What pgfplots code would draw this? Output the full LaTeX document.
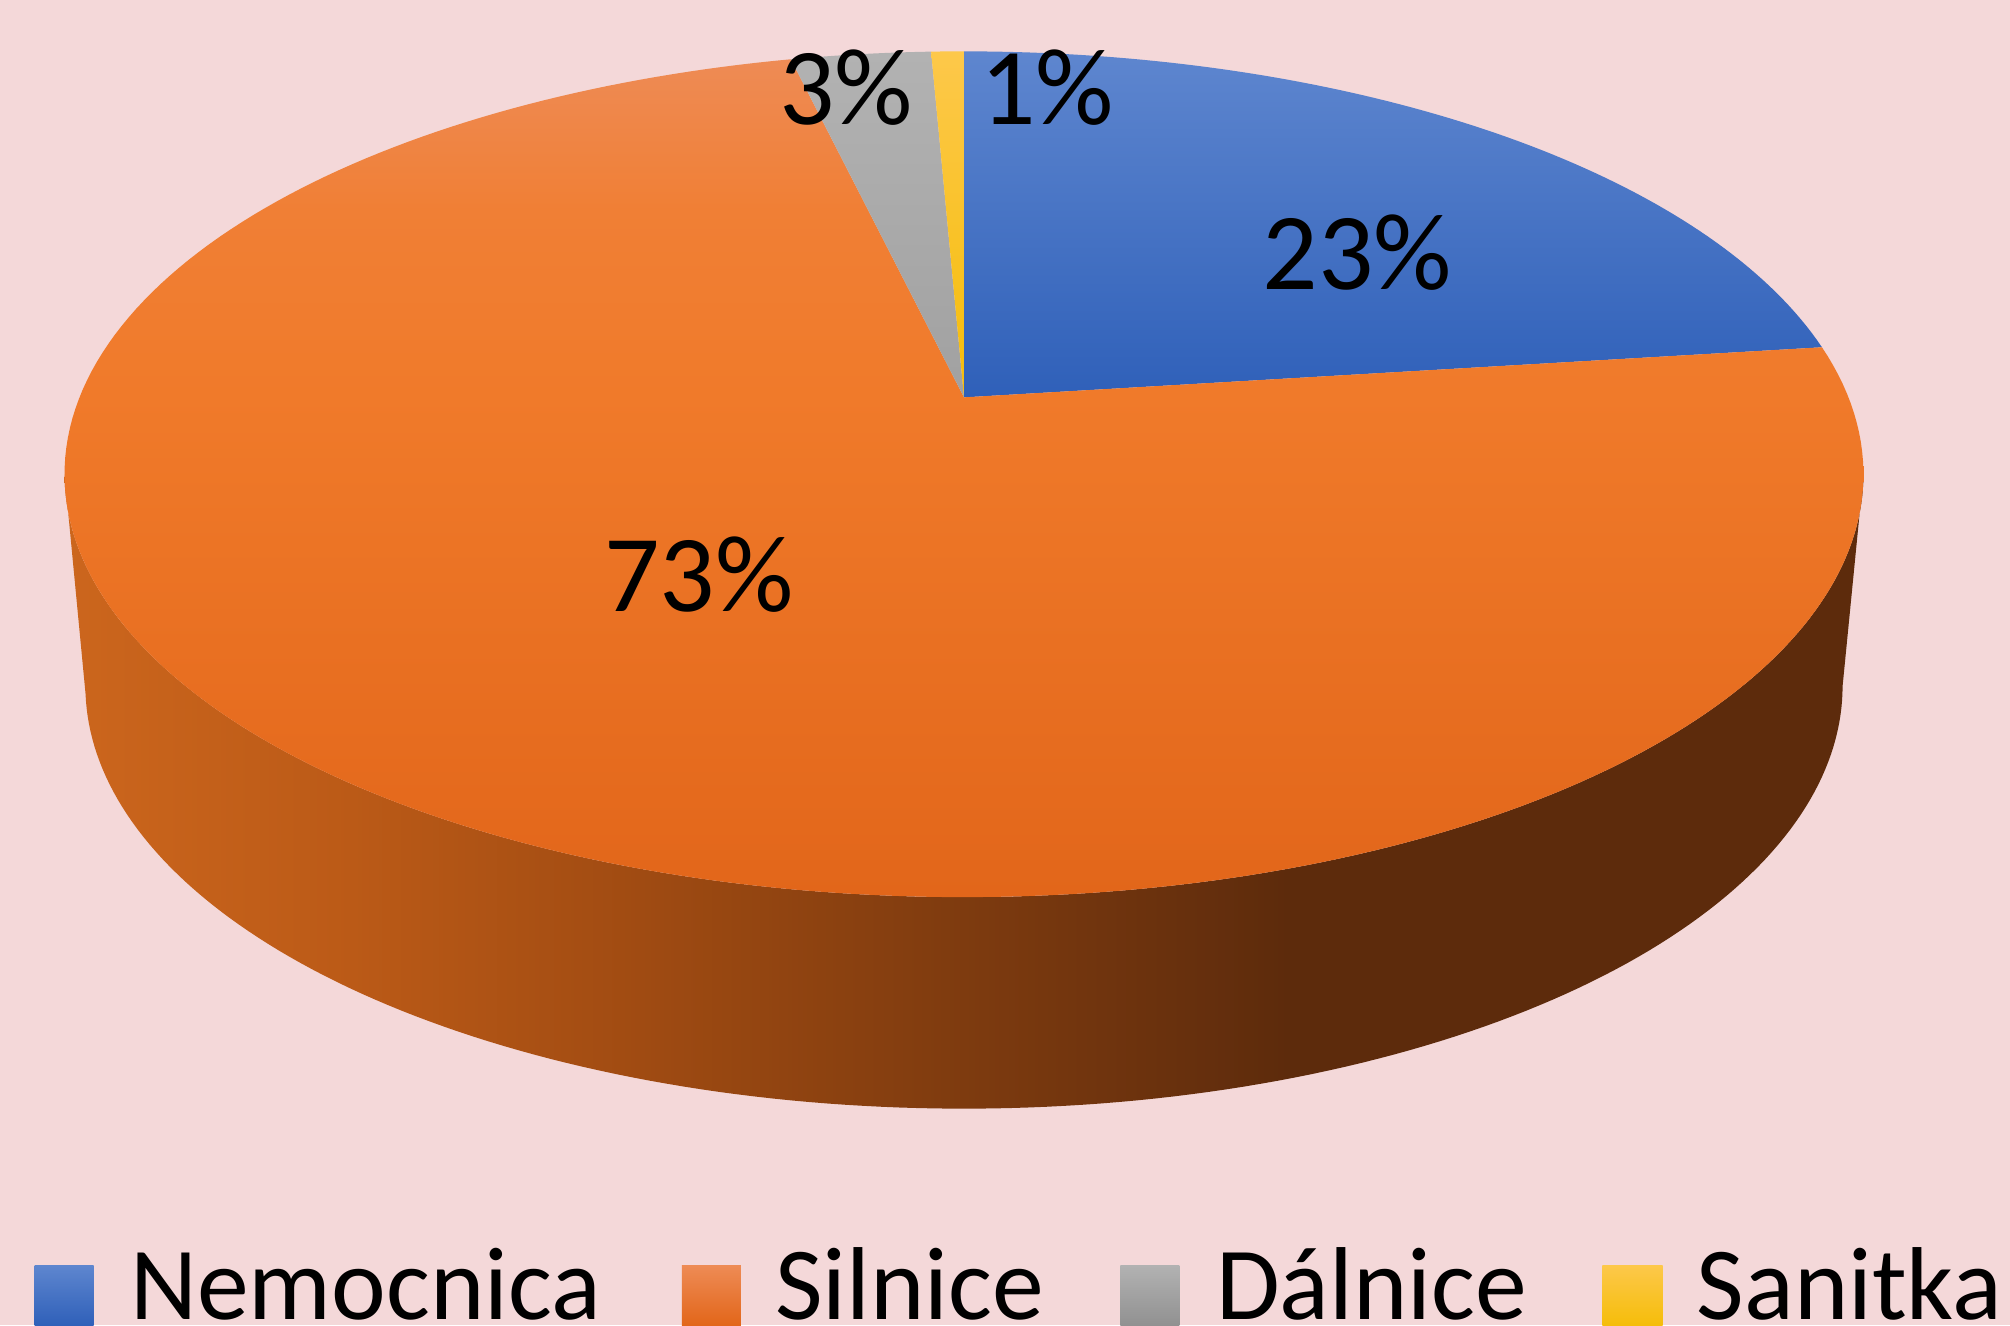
\documentclass[border=0pt]{standalone}
\usepackage{pgfplots}
\pgfplotsset{compat=1.18}
\usepackage{fontspec}
\setmainfont{Carlito}
\definecolor{bg}{HTML}{F4D8D9}
\definecolor{nemT}{HTML}{5E86CF}
\definecolor{nemB}{HTML}{2F60B9}
\definecolor{silT}{HTML}{EE8B55}
\definecolor{silU}{HTML}{F07F35}
\definecolor{silM}{HTML}{F07A2A}
\definecolor{silB}{HTML}{E2661A}
\definecolor{dalT}{HTML}{B2B2B2}
\definecolor{dalB}{HTML}{A1A1A1}
\definecolor{sanT}{HTML}{FDC84A}
\definecolor{sanB}{HTML}{F5BD0A}
\definecolor{sideA}{HTML}{CC661D}
\definecolor{sideB}{HTML}{BB5A17}
\definecolor{sideC}{HTML}{A04B12}
\definecolor{sideD}{HTML}{7E3B0F}
\definecolor{sideE}{HTML}{5D2B0C}
\pgfdeclarehorizontalshading{sideshade}{100bp}{color(0bp)=(sideA); color(25bp)=(sideA); color(33bp)=(sideB); color(41bp)=(sideC); color(50bp)=(sideD); color(59bp)=(sideE); color(100bp)=(sideE)}
\pgfdeclareverticalshading{silshade}{100bp}{color(0bp)=(silB); color(25bp)=(silB); color(55bp)=(silM); color(66bp)=(silU); color(75bp)=(silT); color(100bp)=(silT)}
% data (percent)
\def\vNem{23}
\def\vSil{73.3}
\def\vDal{3}
\def\vSan{0.7}
\pgfmathsetmacro\aA{0}
\pgfmathsetmacro\aB{3.6*\vNem}
\pgfmathsetmacro\aC{\aB+3.6*\vSil}
\pgfmathsetmacro\aD{\aC+3.6*\vDal}
\pgfmathsetmacro\aE{\aD+3.6*\vSan}
\begin{document}
\begin{tikzpicture}[declare function={
  tpx(\t)=752+690*sin(\t)/(1+0.1818*cos(\t));
  tpy(\t)=724+319*cos(\t)/(1+0.1818*cos(\t));
  btx(\t)=752+674*sin(\t)/(1+0.1818*cos(\t));
  bty(\t)=tpy(\t)-165;}]
\fill[bg] (0,0) rectangle (15.68cm,10.34cm);
\begin{axis}[scale only axis, width=15.68cm, height=10.34cm,
  xmin=0, xmax=1568, ymin=0, ymax=1034, hide axis, clip=false]
% side of the slab
\addplot[forget plot, draw=none, shade, shading=sideshade, domain=0:318, samples=319, variable=\s]
  ({\s<=159 ? tpx(100.5+\s) : btx(418.5-\s)}, {\s<=159 ? tpy(100.5+\s) : bty(418.5-\s)});
% top wedges
\addplot[draw=none, shade, top color=nemT, bottom color=nemB, domain=\aA:\aB, samples=80]
  ({tpx(x)},{tpy(x)}) -- (752,724) -- cycle;
\addplot[draw=none, shade, shading=silshade, domain=\aB:\aC, samples=200]
  ({tpx(x)},{tpy(x)}) -- (752,724) -- cycle;
\addplot[draw=none, shade, top color=dalT, bottom color=dalB, domain=\aC:\aD, samples=20]
  ({tpx(x)},{tpy(x)}) -- (752,724) -- cycle;
\addplot[draw=none, shade, top color=sanT, bottom color=sanB, domain=\aD:\aE, samples=8]
  ({tpx(x)},{tpy(x)}) -- (752,724) -- cycle;
% data labels
\node[font=\fontsize{24.3}{29}\selectfont, inner sep=0] at (axis cs:1059,837) {23\%};
\node[font=\fontsize{24.3}{29}\selectfont, inner sep=0] at (axis cs:545,586) {73\%};
\node[font=\fontsize{24.3}{29}\selectfont, inner sep=0] at (axis cs:660,966) {3\%};
\node[font=\fontsize{24.3}{29}\selectfont, inner sep=0] at (axis cs:817,966) {1\%};
% legend
\path[shade, top color=nemT, bottom color=nemB] (axis cs:27,47) rectangle (axis cs:73,0);
\path[shade, top color=silT, bottom color=silB] (axis cs:532,47) rectangle (axis cs:578,0);
\path[shade, top color=dalT, bottom color=dalB!90!black] (axis cs:874,47) rectangle (axis cs:920,0);
\path[shade, top color=sanT, bottom color=sanB] (axis cs:1250,47) rectangle (axis cs:1297,0);
\tikzset{legtext/.style={anchor=base west, font=\fontsize{23}{28}\selectfont, inner sep=0, text depth=0pt}}
\node[legtext] at (axis cs:101,5) {Nemocnica};
\node[legtext] at (axis cs:604,5) {Silnice};
\node[legtext] at (axis cs:948,5) {Dálnice};
\node[legtext] at (axis cs:1323,5) {Sanitka};
\end{axis}
\pgfresetboundingbox
\path[use as bounding box] (0,0) rectangle (15.68cm,10.34cm);
\end{tikzpicture}
\end{document}
